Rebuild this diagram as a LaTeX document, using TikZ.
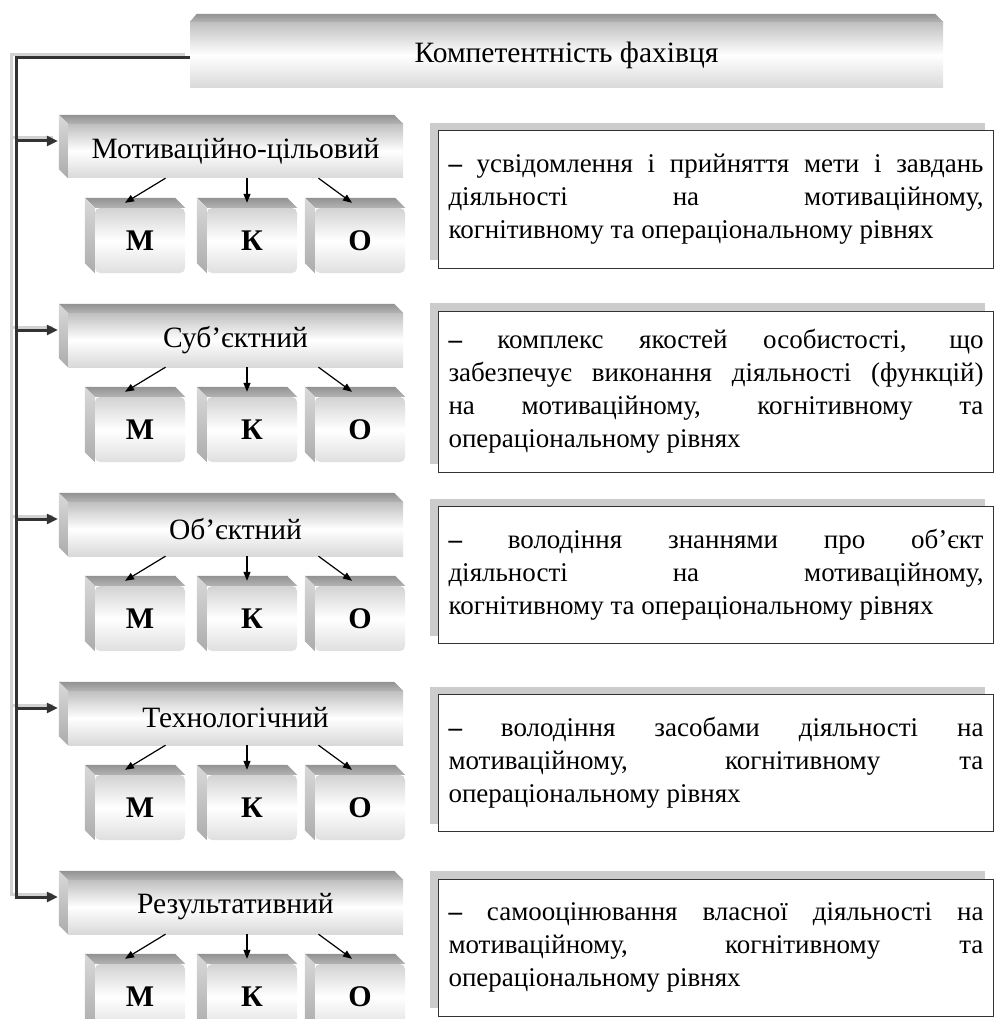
\documentclass[tikz,border=0pt]{standalone}
\usepackage{fontspec}
\setmainfont{Liberation Serif}
\usetikzlibrary{calc,arrows.meta,shadows,positioning}
\def\bevel(#1)(#2){%
	\shade[top color=gray!85, bottom color=gray!60] (#1.north west) -- ++(-#2,#2) -- ($(#1.north east)+(-#2,#2)$) -- (#1.north east) -- cycle;
	\shade[top color=gray!30, bottom color=gray!65] (#1.north west) -- ++(-#2,#2) -- ($(#1.south west)+(-#2,#2)$) -- (#1.south west) -- cycle;}
\tikzset{
	face/.style={top color=gray!50, bottom color=gray!30, middle color=white, inner sep=0pt, font=\fontsize{29.5}{33}\selectfont},
	catbox/.style={face, minimum width=335pt, minimum height=54pt},
	levelbox/.style={face, top color=gray!35, bottom color=gray!25, middle color=white, rounded corners=5pt, minimum width=90pt, minimum height=65pt, font=\fontsize{30}{33}\selectfont\bfseries},
	descbox/.style={draw=black!80, line width=1pt, fill=white, text width=535pt, inner xsep=10pt, inner ysep=4pt, align=justify, font=\fontsize{27}{33}\selectfont, general shadow={fill=gray!40, shadow xshift=-9pt, shadow yshift=8pt}},
	trunkline/.style={line width=3pt, color=black!80},
	trunkshade/.style={line width=3pt, color=gray!35, transform canvas={xshift=-5pt, yshift=3pt}},
	entry/.style={-{Triangle[length=11pt,width=10pt]}},
	split/.style={line width=1.2pt, -{Triangle[length=9pt,width=7pt]}}
}

\begin{document}
\begin{tikzpicture}[x=1pt,y=1pt]
		\useasboundingbox (0,0) rectangle (1002,-1019);
		%%%%% TOP %%%%%
		\node[face, minimum width=753pt, minimum height=66pt] (comp) at (566.5,-55) {Компетентність фахівця};
		\shade[top color=gray!85, bottom color=gray!60] (comp.north west) -- ++(7,8) -- ($(comp.north east)+(-8,8)$) -- (comp.north east) -- cycle;
		
		%%%%% ROWS %%%%%
		\node[catbox] (cat1) at (235.5,-151) {Мотиваційно-цільовий};
		\node[levelbox] (m1) at (140,-240.5) {М};
		\node[levelbox] (k1) at (252,-240.5) {К};
		\node[levelbox] (o1) at (360,-240.5) {О};
		\bevel(cat1)(9) \bevel(m1)(10) \bevel(k1)(10) \bevel(o1)(10)
		\draw[split] ($(cat1.south)+(-70,0)$) -- ($(m1.north)+(-15,5)$);
		\draw[split] ($(k1.north)+(-5,30)$) -- ($(k1.north)+(-5,5)$);
		\draw[split] ($(cat1.south)+(83,0)$) -- ($(o1.north)+(-8,5)$);
		\node[descbox, minimum height=137pt] (d1) at (716,-199.5) {\textbf{–} усвідомлення і прийняття мети і завдань\linebreak діяльності на мотиваційному,\linebreak когнітивному та операціональному рівнях};
		
		\node[catbox] (cat2) at (235.5,-340) {Суб’єктний};
		\node[levelbox] (m2) at (140,-429.5) {М};
		\node[levelbox] (k2) at (252,-429.5) {К};
		\node[levelbox] (o2) at (360,-429.5) {О};
		\bevel(cat2)(9) \bevel(m2)(10) \bevel(k2)(10) \bevel(o2)(10)
		\draw[split] ($(cat2.south)+(-70,0)$) -- ($(m2.north)+(-15,5)$);
		\draw[split] ($(k2.north)+(-5,30)$) -- ($(k2.north)+(-5,5)$);
		\draw[split] ($(cat2.south)+(83,0)$) -- ($(o2.north)+(-8,5)$);
		\node[descbox, minimum height=161pt] (d2) at (716,-391.5) {\textbf{–} комплекс якостей особистості, що\linebreak забезпечує виконання діяльності (функцій)\linebreak на мотиваційному, когнітивному та\linebreak операціональному рівнях};
		
		\node[catbox] (cat3) at (235.5,-529) {Об’єктний};
		\node[levelbox] (m3) at (140,-618.5) {М};
		\node[levelbox] (k3) at (252,-618.5) {К};
		\node[levelbox] (o3) at (360,-618.5) {О};
		\bevel(cat3)(9) \bevel(m3)(10) \bevel(k3)(10) \bevel(o3)(10)
		\draw[split] ($(cat3.south)+(-70,0)$) -- ($(m3.north)+(-15,5)$);
		\draw[split] ($(k3.north)+(-5,30)$) -- ($(k3.north)+(-5,5)$);
		\draw[split] ($(cat3.south)+(83,0)$) -- ($(o3.north)+(-8,5)$);
		\node[descbox, minimum height=137pt] (d3) at (716,-575) {\textbf{–} володіння знаннями про об’єкт\linebreak діяльності на мотиваційному,\linebreak когнітивному та операціональному рівнях};
		
		\node[catbox] (cat4) at (235.5,-718) {Технологічний};
		\node[levelbox] (m4) at (140,-807.5) {М};
		\node[levelbox] (k4) at (252,-807.5) {К};
		\node[levelbox] (o4) at (360,-807.5) {О};
		\bevel(cat4)(9) \bevel(m4)(10) \bevel(k4)(10) \bevel(o4)(10)
		\draw[split] ($(cat4.south)+(-70,0)$) -- ($(m4.north)+(-15,5)$);
		\draw[split] ($(k4.north)+(-5,30)$) -- ($(k4.north)+(-5,5)$);
		\draw[split] ($(cat4.south)+(83,0)$) -- ($(o4.north)+(-8,5)$);
		\node[descbox, minimum height=137pt] (d4) at (716,-763) {\textbf{–} володіння засобами діяльності на\linebreak мотиваційному, когнітивному та\linebreak операціональному рівнях};
		
		\node[catbox] (cat5) at (235.5,-907) {Результативний};
		\node[levelbox] (m5) at (140,-996.5) {М};
		\node[levelbox] (k5) at (252,-996.5) {К};
		\node[levelbox] (o5) at (360,-996.5) {О};
		\bevel(cat5)(9) \bevel(m5)(10) \bevel(k5)(10) \bevel(o5)(10)
		\draw[split] ($(cat5.south)+(-70,0)$) -- ($(m5.north)+(-15,5)$);
		\draw[split] ($(k5.north)+(-5,30)$) -- ($(k5.north)+(-5,5)$);
		\draw[split] ($(cat5.south)+(83,0)$) -- ($(o5.north)+(-8,5)$);
		\node[descbox, minimum height=137pt] (d5) at (716,-947.5) {\textbf{–} самооцінювання власної діяльності на\linebreak мотиваційному, когнітивному та\linebreak операціональному рівнях};
		
		%%%%% TRUNK %%%%%
		\coordinate (tr) at (16,-58);
		\coordinate (in1) at ($(cat1.west)+(-10,10)$);
		\coordinate (in2) at ($(cat2.west)+(-10,10)$);
		\coordinate (in3) at ($(cat3.west)+(-10,10)$);
		\coordinate (in4) at ($(cat4.west)+(-10,10)$);
		\coordinate (in5) at ($(cat5.west)+(-10,10)$);
		
		\draw[trunkshade] ($(comp.west)+(0,-3)$) -- (tr) -- (tr |- in5) -- (in5);
		\draw[trunkshade] (tr |- in1) -- (in1);
		\draw[trunkshade] (tr |- in2) -- (in2);
		\draw[trunkshade] (tr |- in3) -- (in3);
		\draw[trunkshade] (tr |- in4) -- (in4);
		
		\draw[trunkline, entry] ($(comp.west)+(0,-3)$) -- (tr) -- (tr |- in5) -- (in5);
		\draw[trunkline, entry] (tr |- in1) -- (in1);
		\draw[trunkline, entry] (tr |- in2) -- (in2);
		\draw[trunkline, entry] (tr |- in3) -- (in3);
		\draw[trunkline, entry] (tr |- in4) -- (in4);
	\end{tikzpicture}
\end{document}
